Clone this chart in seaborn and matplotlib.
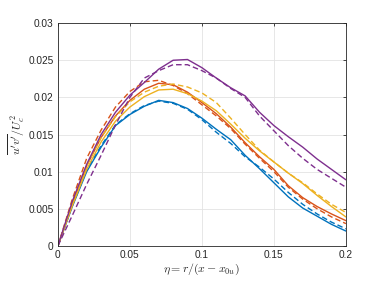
import numpy as np
import pandas as pd
import matplotlib
matplotlib.use("Agg")
import matplotlib.pyplot as plt
import seaborn as sns

# ---- data ----
eta = [0.0, 0.01, 0.02, 0.03, 0.04, 0.05, 0.06, 0.07, 0.08, 0.09, 0.10,
       0.11, 0.12, 0.13, 0.14, 0.15, 0.16, 0.17, 0.18, 0.19, 0.20]

blue_solid = [0, 0.0053, 0.0100, 0.0133, 0.0162, 0.0177, 0.0188, 0.0196, 0.0193, 0.0185, 0.0172,
              0.0157, 0.0143, 0.0122, 0.0104, 0.0085, 0.0066, 0.0051, 0.0040, 0.0029, 0.0020]
blue_dash = [0, 0.0054, 0.0102, 0.0135, 0.0163, 0.0178, 0.0189, 0.0195, 0.0192, 0.0184, 0.0170,
             0.0153, 0.0138, 0.0120, 0.0106, 0.0090, 0.0072, 0.0056, 0.0043, 0.0032, 0.0023]
orange_solid = [0, 0.0057, 0.0108, 0.0146, 0.0175, 0.0196, 0.0211, 0.0219, 0.0217, 0.0207, 0.0193,
                0.0178, 0.0160, 0.0139, 0.0120, 0.0103, 0.0081, 0.0065, 0.0053, 0.0043, 0.0034]
orange_dash = [0, 0.0063, 0.0118, 0.0156, 0.0187, 0.0208, 0.0221, 0.0223, 0.0216, 0.0205, 0.0190,
               0.0175, 0.0158, 0.0137, 0.0118, 0.0100, 0.0079, 0.0063, 0.0050, 0.0039, 0.0030]
yellow_solid = [0, 0.0054, 0.0103, 0.0140, 0.0168, 0.0187, 0.0201, 0.0210, 0.0211, 0.0205, 0.0195,
                0.0182, 0.0164, 0.0145, 0.0128, 0.0113, 0.0098, 0.0084, 0.0068, 0.0053, 0.0039]
yellow_dash = [0, 0.0057, 0.0108, 0.0146, 0.0174, 0.0194, 0.0207, 0.0215, 0.0218, 0.0214, 0.0206,
               0.0193, 0.0172, 0.0150, 0.0129, 0.0113, 0.0098, 0.0085, 0.0070, 0.0056, 0.0045]
purple_solid = [0, 0.0060, 0.0110, 0.0150, 0.0180, 0.0203, 0.0220, 0.0238, 0.0250, 0.0251, 0.0240,
                0.0226, 0.0213, 0.0202, 0.0180, 0.0162, 0.0147, 0.0133, 0.0117, 0.0103, 0.0089]
purple_dash = [0, 0.0041, 0.0083, 0.0122, 0.0163, 0.0200, 0.0226, 0.0236, 0.0244, 0.0244, 0.0236,
               0.0226, 0.0212, 0.0200, 0.0175, 0.0155, 0.0135, 0.0118, 0.0103, 0.0091, 0.0079]

x_ticks = [0, 0.05, 0.1, 0.15, 0.2]
x_labels = ["0", "0.05", "0.1", "0.15", "0.2"]
y_ticks = [0, 0.005, 0.01, 0.015, 0.02, 0.025, 0.03]
y_labels = ["0", "0.005", "0.01", "0.015", "0.02", "0.025", "0.03"]

# MATLAB default colour order
series = [
    (blue_solid, "#0072BD", "-"), (blue_dash, "#0072BD", "--"),
    (orange_solid, "#D95319", "-"), (orange_dash, "#D95319", "--"),
    (yellow_solid, "#EDB120", "-"), (yellow_dash, "#EDB120", "--"),
    (purple_solid, "#7E2F8E", "-"), (purple_dash, "#7E2F8E", "--"),
]

sns.set_theme(style="white")
plt.rcParams['font.family'] = ['Liberation Sans', 'DejaVu Sans']
plt.rcParams['mathtext.fontset'] = 'cm'

fig = plt.figure(figsize=(3.76, 2.82), dpi=100)
ax = fig.add_axes([0.154, 0.128, 0.766, 0.790])

for vals, col, ls in series:
    sns.lineplot(x=eta, y=vals, color=col, linestyle=ls, linewidth=1.0, ax=ax,
                 dashes=False if ls == "-" else (4, 2.2))
for line, (_, _, ls) in zip(ax.get_lines(), series):
    if ls == "--":
        line.set_dashes((4, 2.2))

ax.set_xlim(0, 0.2)
ax.set_ylim(0, 0.03)
ax.set_xticks(x_ticks)
ax.set_xticklabels(x_labels)
ax.set_yticks(y_ticks)
ax.set_yticklabels(y_labels)
ax.grid(True, color="#e3e3e3", linewidth=0.6)
ax.set_axisbelow(True)
ax.tick_params(direction="in", length=2.5, width=0.6, colors="#262626",
               labelsize=7.3, top=True, right=True, pad=3)
for s in ax.spines.values():
    s.set_color("#262626")
    s.set_linewidth(0.6)

ax.set_xlabel(r"$\eta = r/(x - x_{0u})$", fontsize=8.5, labelpad=1, color="#262626")
ax.set_ylabel(r"$\overline{u'v'}/U_c^2$", fontsize=8.5, labelpad=1, color="#262626")

fig.savefig("out.png", dpi=100)
